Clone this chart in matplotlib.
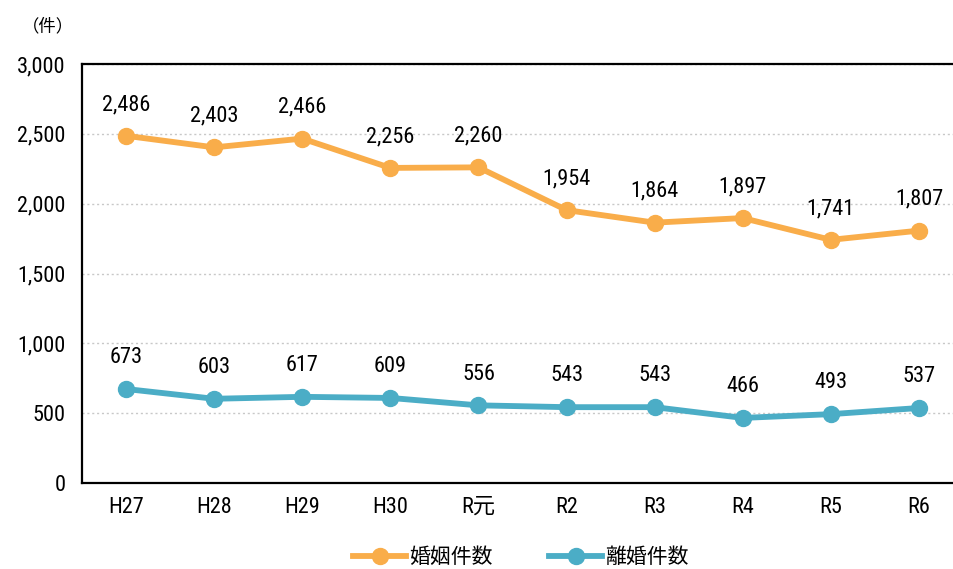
import numpy as np
import matplotlib
matplotlib.use("Agg")
from matplotlib import pyplot as plt
from matplotlib import font_manager

# 数字用の細いフォント（なければ DejaVu Sans の condensed）
names = set(f.name for f in font_manager.fontManager.ttflist)
num_font = 'Roboto Condensed' if 'Roboto Condensed' in names else 'DejaVu Sans'
plt.rcParams['font.family'] = [num_font, 'Noto Sans CJK JP']
plt.rcParams['font.stretch'] = 'condensed'
plt.rcParams['axes.unicode_minus'] = False

years = ['H27', 'H28', 'H29', 'H30', 'R元', 'R2', 'R3', 'R4', 'R5', 'R6']
marriage = [2486, 2403, 2466, 2256, 2260, 1954, 1864, 1897, 1741, 1807]
divorce = [673, 603, 617, 609, 556, 543, 543, 466, 493, 537]

c_mar = '#F9AD4A'
c_div = '#4BADC6'

fig = plt.figure(figsize=(9.54, 5.69), dpi=100)
ax = fig.add_axes([82/954, 86/569, (963-82)/954, (483-64)/569])

x = np.arange(len(years))
ax.plot(x, marriage, '-o', color=c_mar, lw=4.2, ms=11.5, label='婚姻件数', clip_on=False)
ax.plot(x, divorce, '-o', color=c_div, lw=4.2, ms=11.5, label='離婚件数', clip_on=False)

for i in range(len(years)):
    ax.annotate(f'{marriage[i]:,}', (x[i], marriage[i]), xytext=(0, 15), textcoords='offset points',
                ha='center', va='bottom', fontsize=16)
    ax.annotate(f'{divorce[i]:,}', (x[i], divorce[i]), xytext=(0, 15), textcoords='offset points',
                ha='center', va='bottom', fontsize=16)

ax.set_xlim(-0.5, 9.5)
ax.set_ylim(0, 3000)
ax.set_yticks(np.arange(0, 3001, 500))
ax.set_yticklabels([f'{v:,}' for v in range(0, 3001, 500)])
ax.set_xticks(x)
ax.set_xticklabels(years)
ax.tick_params(length=0, labelsize=16)
ax.tick_params(axis='y', pad=12)
ax.tick_params(axis='x', pad=10)
ax.grid(axis='y', color='#c8c8c8', linestyle=(0, (1.5, 2)), lw=1)
ax.set_axisbelow(True)
for s in ['left', 'bottom', 'top']:
    ax.spines[s].set_linewidth(1.6)
    ax.spines[s].set_color('black')
ax.spines['right'].set_visible(False)

fig.text(22/954, 1 - 26/569, '（件）', fontsize=12.5, va='center', ha='left',
         family=['Noto Sans CJK JP'])

leg = fig.legend(loc='center', bbox_to_anchor=(521/954, 1 - 557/569), ncol=2, frameon=False,
                 prop={'family': 'Noto Sans CJK JP', 'size': 15}, handlelength=2.55,
                 handletextpad=0.15, columnspacing=2.7)

plt.savefig('out.png', dpi=100)
